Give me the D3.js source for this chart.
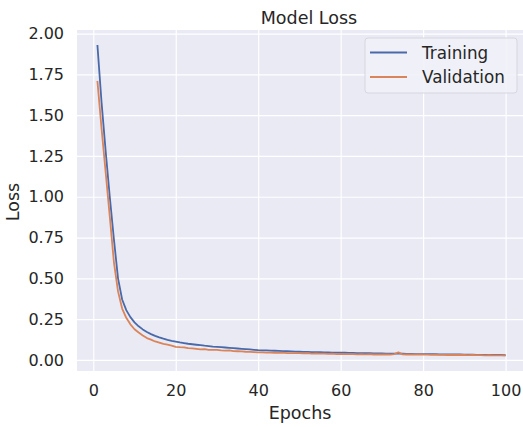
<!DOCTYPE html>
<html>
<head>
<meta charset="utf-8">
<script src="https://cdn.jsdelivr.net/npm/d3@7"></script>
<style>
  body { margin: 0; background: #fff; }
  text { font-family: "DejaVu Sans", sans-serif; fill: #262626; }
</style>
</head>
<body>
<svg id="chart" width="523" height="427"></svg>
<script>
const epochs = d3.range(1, 101);

const trainingLoss = [
  1.93, 1.58, 1.28, 1.00, 0.74, 0.50, 0.37, 0.305, 0.262, 0.230,
  0.206, 0.187, 0.171, 0.158, 0.147, 0.138, 0.130, 0.123, 0.117, 0.112,
  0.107, 0.103, 0.099, 0.096, 0.093, 0.090, 0.087, 0.085, 0.082, 0.080,
  0.078, 0.076, 0.074, 0.072, 0.070, 0.068, 0.066, 0.064, 0.062, 0.060,
  0.059, 0.058, 0.057, 0.056, 0.055, 0.054, 0.053, 0.052, 0.051, 0.050,
  0.049, 0.049, 0.048, 0.047, 0.047, 0.046, 0.046, 0.045, 0.045, 0.044,
  0.044, 0.043, 0.043, 0.042, 0.042, 0.041, 0.041, 0.040, 0.040, 0.040,
  0.039, 0.039, 0.038, 0.038, 0.038, 0.037, 0.037, 0.036, 0.036, 0.036,
  0.035, 0.035, 0.035, 0.034, 0.034, 0.034, 0.033, 0.033, 0.033, 0.032,
  0.032, 0.032, 0.031, 0.031, 0.031, 0.030, 0.030, 0.030, 0.030, 0.029
];

const validationLoss = [
  1.71, 1.42, 1.15, 0.88, 0.60, 0.42, 0.315, 0.258, 0.218, 0.188,
  0.168, 0.150, 0.134, 0.124, 0.113, 0.106, 0.098, 0.094, 0.088, 0.080,
  0.078, 0.077, 0.072, 0.071, 0.068, 0.065, 0.066, 0.062, 0.061, 0.062,
  0.058, 0.057, 0.058, 0.054, 0.053, 0.052, 0.050, 0.049, 0.048, 0.046,
  0.046, 0.045, 0.045, 0.044, 0.043, 0.044, 0.042, 0.042, 0.041, 0.042,
  0.040, 0.041, 0.039, 0.040, 0.038, 0.038, 0.037, 0.038, 0.036, 0.037,
  0.036, 0.035, 0.036, 0.034, 0.035, 0.034, 0.035, 0.033, 0.034, 0.033,
  0.034, 0.033, 0.036, 0.046, 0.034, 0.033, 0.033, 0.032, 0.033, 0.032,
  0.032, 0.031, 0.032, 0.031, 0.031, 0.030, 0.031, 0.030, 0.030, 0.030,
  0.029, 0.030, 0.029, 0.029, 0.028, 0.029, 0.028, 0.028, 0.028, 0.027
];

const xTicks = [0, 20, 40, 60, 80, 100];
const yTicks = [0, 0.25, 0.5, 0.75, 1.0, 1.25, 1.5, 1.75, 2.0];
const seriesNames = ["Training", "Validation"];

const TrainColor = "#4A69A8";
const ValColor = "#D9845A";
const AxesBg = "#E9EAF4";

const svg = d3.select("#chart");

const plotLeft = 77, plotRight = 526, plotTop = 30, plotBottom = 371;

const x = d3.scaleLinear().domain([-3.95, 104.95]).range([plotLeft, plotRight]);
const y = d3.scaleLinear().domain([-0.068, 2.022]).range([plotBottom, plotTop]);

// fondo del área de trazado
svg.append("rect")
  .attr("x", plotLeft).attr("y", plotTop)
  .attr("width", plotRight - plotLeft).attr("height", plotBottom - plotTop)
  .attr("fill", AxesBg);

// rejilla + etiquetas
const xAxis = d3.axisBottom(x).tickValues(xTicks).tickSize(-(plotBottom - plotTop)).tickPadding(14).tickFormat(d3.format("d"));
const yAxis = d3.axisLeft(y).tickValues(yTicks).tickSize(-(plotRight - plotLeft)).tickPadding(14).tickFormat(d3.format(".2f"));

const gx = svg.append("g").attr("transform", `translate(0,${plotBottom})`).call(xAxis);
const gy = svg.append("g").attr("transform", `translate(${plotLeft},0)`).call(yAxis);

[gx, gy].forEach(g => {
  g.select(".domain").remove();
  g.selectAll(".tick line").attr("stroke", "#fff").attr("stroke-width", 1.2);
  g.selectAll(".tick text").attr("font-size", "16px").attr("fill", "#2a2a2a")
    .style("font-family", "'DejaVu Sans', sans-serif");
});
gx.selectAll(".tick text").attr("dy", "0.71em");
gy.selectAll(".tick text").attr("dx", "1px");

// curvas
const line = d3.line().x((d, i) => x(epochs[i])).y(d => y(d));

svg.append("path").datum(trainingLoss)
  .attr("d", line).attr("fill", "none")
  .attr("stroke", TrainColor).attr("stroke-width", 1.8).attr("stroke-linejoin", "round");

svg.append("path").datum(validationLoss)
  .attr("d", line).attr("fill", "none")
  .attr("stroke", ValColor).attr("stroke-width", 1.8).attr("stroke-linejoin", "round");

// títulos
svg.append("text").attr("x", 309).attr("y", 24).attr("text-anchor", "middle")
  .attr("font-size", "17.5px").text("Model Loss");

svg.append("text").attr("x", 300).attr("y", 419).attr("text-anchor", "middle")
  .attr("font-size", "17.5px").text("Epochs");

svg.append("text").attr("transform", "translate(19,202) rotate(-90)").attr("text-anchor", "middle")
  .attr("font-size", "17.5px").text("Loss");

// leyenda
const legend = svg.append("g");
legend.append("rect")
  .attr("x", 365).attr("y", 38).attr("width", 152).attr("height", 55)
  .attr("rx", 3).attr("fill", "#F1F2F8").attr("fill-opacity", 0.9)
  .attr("stroke", "#D5D6DE").attr("stroke-width", 1);

const colors = [TrainColor, ValColor];
seriesNames.forEach((name, i) => {
  const ly = 52.5 + i * 24.5;
  legend.append("line")
    .attr("x1", 370).attr("x2", 407).attr("y1", ly).attr("y2", ly)
    .attr("stroke", colors[i]).attr("stroke-width", 1.8);
  legend.append("text")
    .attr("x", 422).attr("y", ly + 6)
    .attr("font-size", "16.8px").text(name);
});
</script>
</body>
</html>
